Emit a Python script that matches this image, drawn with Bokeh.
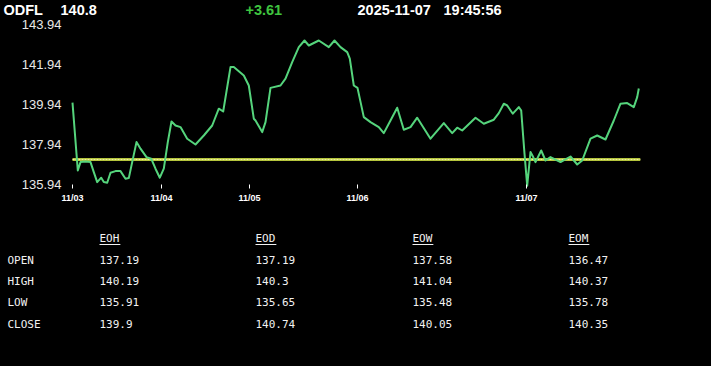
from bokeh.plotting import figure
from bokeh.models import (Range1d, FixedTicker, PrintfTickFormatter, ColumnDataSource, LinearAxis)
from bokeh.core.properties import value
from bokeh.embed import file_html
from bokeh.resources import INLINE

# ---------------- data ----------------
symbol = "ODFL"
last_price = "140.8"
change = "+3.61"
stamp_date = "2025-11-07"
stamp_time = "19:45:56"

# intraday price path (position along session axis, price)
t = [0, 5.3, 8, 13, 18, 21.3, 24.7, 28.7, 31.3, 34.7, 38, 43, 48, 53, 56.3, 59.7, 64, 68, 74, 78.7,
     83, 87.3, 91.3, 95.3, 99, 103, 108, 114.7, 123, 131.3, 139.7, 146.3, 150.7, 158, 161.3, 171.3,
     176.3, 181.3, 183, 189.7, 193, 198, 208, 213, 219.7, 226.3, 232, 236.3, 246.3, 256.3, 262, 268,
     274.7, 277.3, 281.3, 285, 291.3, 298, 306.3, 311.3, 318, 324.7, 331.3, 338, 344.7, 358, 371.3,
     379.7, 384.7, 389.7, 403, 411.3, 421.3, 426.3, 431.3, 434.7, 440.3, 446.3, 448.7, 452, 454.7,
     458, 460.7, 463, 468.7, 473, 478, 488, 498, 504.7, 509.7, 518, 524.7, 533, 541.3, 548, 554.7,
     561.3, 564.7, 566.3]
price = [140.03, 136.64, 137.06, 137.09, 137.06, 136.56, 136.06, 136.28, 136.06, 136.03, 136.53,
         136.61, 136.61, 136.23, 136.26, 137.06, 138.06, 137.73, 137.31, 137.23, 136.73, 136.28,
         136.73, 138.06, 139.09, 138.89, 138.81, 138.23, 137.94, 138.39, 138.89, 139.73, 139.59,
         141.81, 141.81, 141.39, 140.89, 139.23, 139.14, 138.56, 139.06, 140.77, 140.89, 141.23,
         142.06, 142.81, 143.14, 142.89, 143.14, 142.81, 143.14, 142.81, 142.56, 142.23, 140.89,
         140.77, 139.31, 139.06, 138.81, 138.51, 139.14, 139.78, 138.68, 138.81, 139.28, 138.23,
         139.01, 138.51, 138.78, 138.64, 139.28, 138.98, 139.18, 139.51, 139.98, 139.89, 139.48,
         139.81, 139.64, 137.48, 135.88, 137.56, 137.31, 137.06, 137.64, 137.14, 137.31, 137.06,
         137.34, 136.94, 137.14, 138.23, 138.39, 138.19, 139.14, 139.98, 140.01, 139.81, 140.31,
         140.74]
open_price = 137.19

day_starts = [0, 89, 177, 285, 454]
day_labels = ["11/03", "11/04", "11/05", "11/06", "11/07"]
y_ticks = [135.94, 137.94, 139.94, 141.94, 143.94]

row_names = ["OPEN", "HIGH", "LOW", "CLOSE"]
col_names = ["EOH", "EOD", "EOW", "EOM"]
eoh = [137.19, 140.19, 135.91, 139.9]
eod = [137.19, 140.3, 135.65, 140.74]
eow = [137.58, 141.04, 135.48, 140.05]
eom = [136.47, 140.37, 135.78, 140.35]

# ---------------- style / layout ----------------
W, H = 711, 366
BG = "black"
SANS = "Liberation Sans"
MONO = "DejaVu Sans Mono"
PLOT_LEFT, PLOT_TOP, PLOT_BOTTOM = 72, 24, 184     # page px of chart area
PX_PER_UNIT_Y = (PLOT_BOTTOM - PLOT_TOP) / (y_ticks[-1] - y_ticks[0])

y_lo = y_ticks[0] - (H - PLOT_BOTTOM) / PX_PER_UNIT_Y
y_hi = y_ticks[-1] + PLOT_TOP / PX_PER_UNIT_Y

p = figure(width=W, height=H, x_range=Range1d(-PLOT_LEFT, W - PLOT_LEFT), y_range=Range1d(y_lo, y_hi),
           output_backend="svg", toolbar_location=None, x_axis_type=None, y_axis_type=None,
           min_border=0, background_fill_color=BG, border_fill_color=BG, outline_line_color=None)
p.grid.visible = False
p.extra_x_ranges = {"page_x": Range1d(0, W)}
p.extra_y_ranges = {"page_y": Range1d(H, 0)}

# open-price reference line and price path
p.line([t[0], t[-1] + 1.5], [open_price, open_price], line_color="#b4c43c", line_width=3)
p.line([t[0], t[-1] + 1.5], [open_price, open_price], line_color="#eef3a0", line_width=1,
       line_dash="2 1")
p.line(t, price, line_color="#55d47c", line_width=2, line_join="round")

# axes fixed at the chart's origin
xa = LinearAxis(fixed_location=y_ticks[0])
xa.ticker = FixedTicker(ticks=day_starts)
xa.major_label_overrides = {k: v for k, v in zip(day_starts, day_labels)}
xa.axis_line_color = None
xa.major_tick_line_color = "white"
xa.major_tick_out = 4
xa.major_tick_in = 0
xa.minor_tick_line_color = None
xa.major_label_text_color = "white"
xa.major_label_text_font = SANS
xa.major_label_text_font_style = "bold"
xa.major_label_text_font_size = "9px"
xa.major_label_standoff = 4
p.add_layout(xa, "below")

ya = LinearAxis(fixed_location=t[0])
ya.ticker = FixedTicker(ticks=y_ticks)
ya.formatter = PrintfTickFormatter(format="%.2f")
ya.axis_line_color = None
ya.major_tick_line_color = None
ya.major_tick_out = 0
ya.major_tick_in = 0
ya.minor_tick_line_color = None
ya.major_label_text_color = "#e8e8e8"
ya.major_label_text_font = SANS
ya.major_label_text_font_size = "13px"
ya.major_label_standoff = 11
p.add_layout(ya, "left")

# header
hx = [3, 60, 245, 357, 443]
p.text(x=hx, y=[9] * 5, text=[symbol, last_price, change, stamp_date, stamp_time],
       text_color=["white", "white", "#3fc43f", "white", "white"],
       text_font=value(SANS), text_font_style="bold", text_font_size=value("14.5px"),
       text_baseline="middle", text_align="left", x_range_name="page_x", y_range_name="page_y")

# table
col_x = [99, 255, 412, 568]
row_y = [260, 281, 302, 324]
head_y = 238
cw = 6.62
tx, ty, ts = [], [], []
for ry, n in zip(row_y, row_names):
    tx.append(7); ty.append(ry); ts.append(n)
for cx, n in zip(col_x, col_names):
    tx.append(cx); ty.append(head_y); ts.append(n)
for cx, vals in zip(col_x, [eoh, eod, eow, eom]):
    for ry, v in zip(row_y, vals):
        tx.append(cx); ty.append(ry - 1); ts.append(str(v))
p.text(x="x", y="y", text="s", source=ColumnDataSource(dict(x=tx, y=ty, s=ts)),
       text_color="#f2f2f2", text_font=value(MONO), text_font_size=value("11px"),
       text_baseline="middle", text_align="left", x_range_name="page_x", y_range_name="page_y")
p.segment(x0=col_x, y0=[head_y + 6] * 4,
          x1=[x + cw * len(n) + 1 for x, n in zip(col_x, col_names)], y1=[head_y + 6] * 4,
          line_color="#f2f2f2", line_width=1, x_range_name="page_x", y_range_name="page_y")

html = file_html(p, INLINE)
html = html.replace("<head>", "<head><style>html,body{background:#000;margin:0;}</style>", 1)
open("out.html", "w").write(html)
